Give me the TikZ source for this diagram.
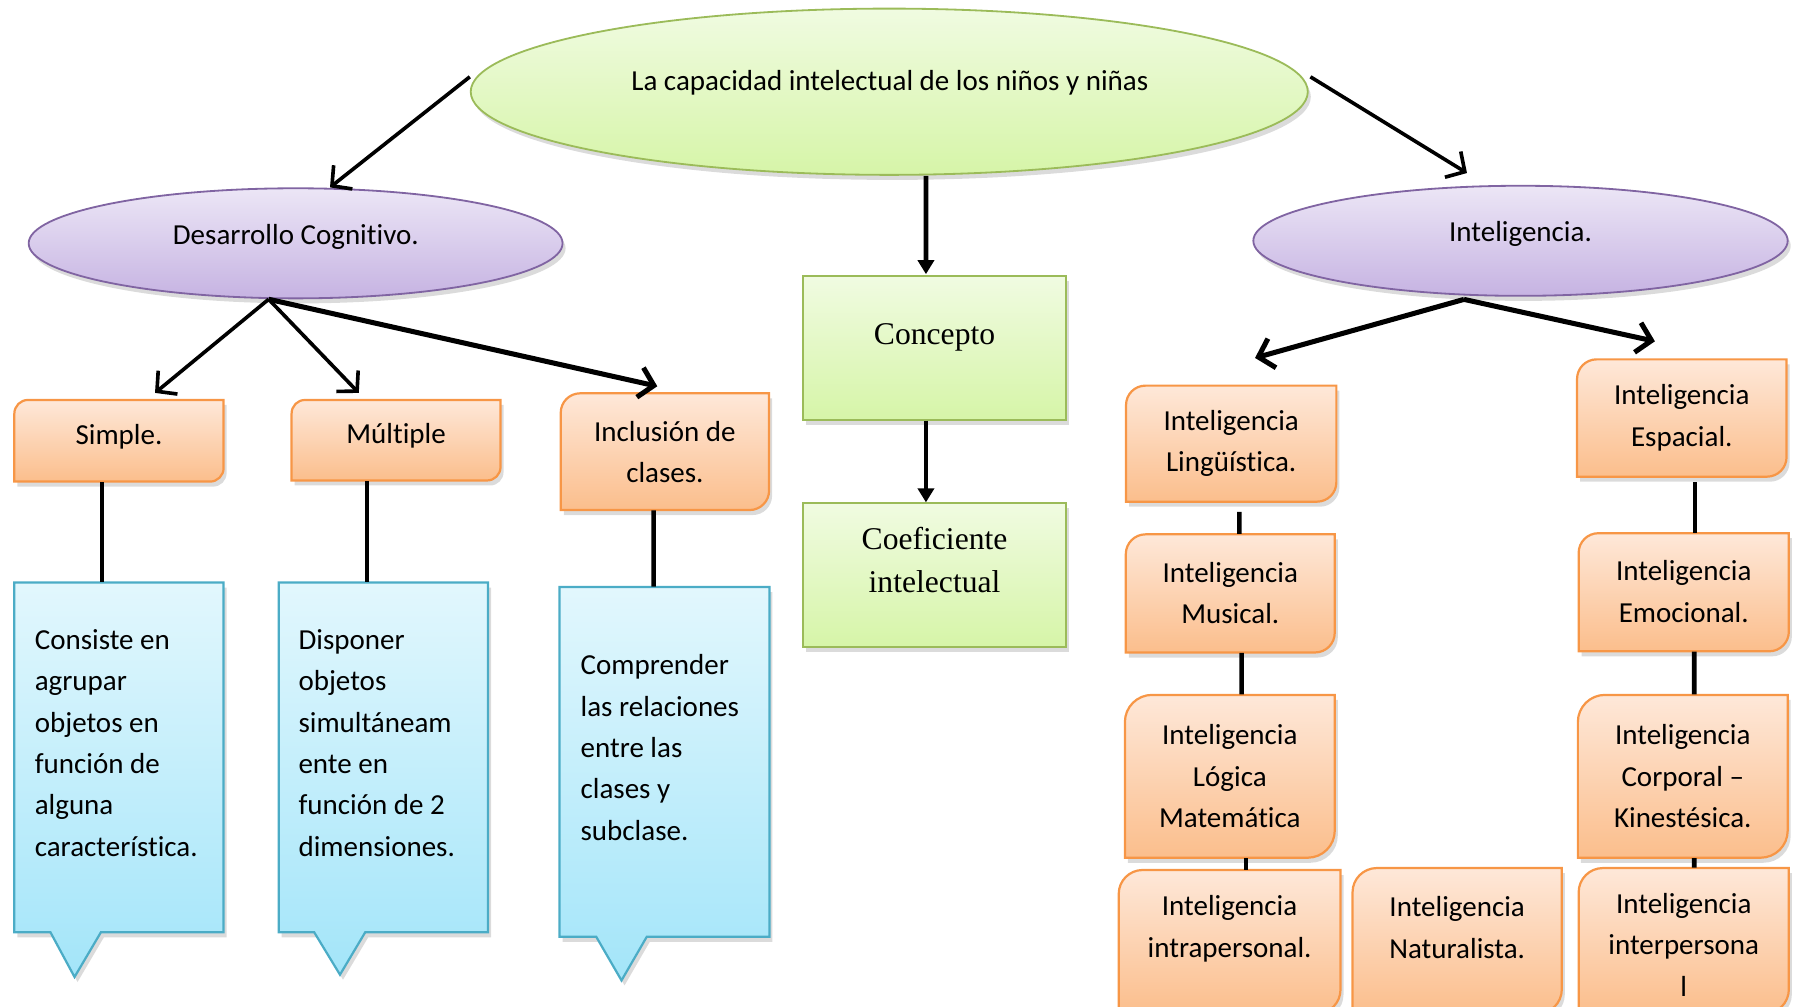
\documentclass[tikz,border=0pt]{standalone}
\usepackage{fontspec}
\setmainfont{Carlito}[Ligatures=NoCommon]
\newfontfamily\tnr{Liberation Serif}
\usetikzlibrary{arrows.meta,shapes.geometric,calc,shadows}

\definecolor{gtop}{HTML}{F0FBE1}
\definecolor{gbot}{HTML}{D6F5A8}
\definecolor{gline}{HTML}{9BBB59}
\definecolor{ptop}{HTML}{ECE6F6}
\definecolor{pbot}{HTML}{C6B3E2}
\definecolor{pline}{HTML}{8064A2}
\definecolor{otop}{HTML}{FEE8D9}
\definecolor{obot}{HTML}{FBBE8C}
\definecolor{oline}{HTML}{F79646}
\definecolor{btop}{HTML}{E2F7FD}
\definecolor{bbot}{HTML}{A3E5F9}
\definecolor{bline}{HTML}{4BACC6}

\tikzset{
  arr/.style={line width=1.8pt, -{Straight Barb[length=7pt,width=15pt,line width=1.8pt]}},
  arrthick/.style={line width=2.5pt, -{Straight Barb[length=7pt,width=15pt,line width=2.5pt]}},
  arrtri/.style={line width=2.3pt, -{Triangle[length=7pt,width=8pt]}},
  conn/.style={line width=2.3pt},
  shad/.style={drop shadow={shadow xshift=1.5pt, shadow yshift=-2.5pt, opacity=0.2, fill=black!70}},
  ell/.style={ellipse, inner sep=0pt, line width=0.9pt},
  txt/.style={font=\fontsize{14.4}{20.5}\selectfont, align=center, inner sep=0pt, yshift=-1.1pt},
  serif/.style={font=\tnr\fontsize{15.7}{21}\selectfont, align=center, inner sep=0pt, yshift=-1.7pt},
  boxnode/.style={inner sep=0pt, draw=none, rectangle},
}

% orange box: name, x1, y1, x2, y2, text y, text
\newcommand{\obox}[7]{%
  \pgfmathsetmacro{\rr}{min(#4-#2,#5-#3)/6}%
  \path[shad, top color=otop, bottom color=obot, draw=oline, line width=1.1pt]
    (#2,-#5) -- (#2,{-#3-\rr}) arc[start angle=180,end angle=90,radius=\rr]
    -- (#4,-#3) -- (#4,{-#5+\rr}) arc[start angle=0,end angle=-90,radius=\rr] -- cycle;
  \node[boxnode, minimum width={(#4-#2)*0.02cm}, minimum height={(#5-#3)*0.02cm}] (#1) at ({(#2+#4)/2},{-(#3+#5)/2}) {};
  \node[txt] (#1t) at ({(#2+#4)/2},-#6) {#7};
}

% blue callout: name, x1, y1, x2, y2, base x1, base x2, tip x, tip y
\newcommand{\bbox}[9]{%
  \path[shad, top color=btop, bottom color=bbot, draw=bline, line width=1.1pt]
    (#2,-#3) -- (#4,-#3) -- (#4,-#5) -- (#7,-#5) -- (#8,-#9) -- (#6,-#5) -- (#2,-#5) -- cycle;
  \node[boxnode, minimum width={(#4-#2)*0.02cm}, minimum height={(#5-#3)*0.02cm}] (#1) at ({(#2+#4)/2},{-(#3+#5)/2}) {};
}

\begin{document}
\begin{tikzpicture}[x=0.02cm,y=0.02cm]
\useasboundingbox (0,0) rectangle (1568,-878);
\clip (0,0) rectangle (1568,-878);

% ellipses
\node[ell, shad, draw=gline, top color=gtop, bottom color=gbot,
      minimum width={730*0.02cm}, minimum height={145*0.02cm}] (main) at (775.5,-80) {};
\node[txt] (maint) at (776,-70) {La capacidad intelectual de los niños y niñas};

\node[ell, shad, draw=pline, top color=ptop, bottom color=pbot,
      minimum width={465.6*0.02cm}, minimum height={96*0.02cm}] (dc) at (257.8,-212.2) {};
\node[txt] (dct) at (258,-205) {Desarrollo Cognitivo.};

\node[ell, shad, draw=pline, top color=ptop, bottom color=pbot,
      minimum width={466*0.02cm}, minimum height={96*0.02cm}] (intel) at (1326,-210) {};
\node[txt] (intelt) at (1326,-202) {Inteligencia.};

% green boxes
\node[boxnode, shad, draw=gline, line width=1pt, top color=gtop, bottom color=gbot,
      minimum width={230*0.02cm}, minimum height={125*0.02cm}] (conc) at (815,-303.5) {};
\node[serif] (conct) at (815,-291) {Concepto};
\node[boxnode, shad, draw=gline, line width=1pt, top color=gtop, bottom color=gbot,
      minimum width={230*0.02cm}, minimum height={125*0.02cm}] (coef) at (815,-501.5) {};
\node[serif] (coeft) at (815,-485.5) {Coeficiente\\intelectual};

% orange boxes
\obox{simple}{12.5}{348.8}{195}{420}{379}{Simple.}
\obox{mult}{254.3}{348.8}{436.5}{419}{378}{Múltiple}
\obox{incl}{489}{343}{670.7}{444.8}{392}{Inclusión de\\clases.}
\obox{ling}{982}{336.3}{1165.4}{437.5}{385}{Inteligencia\\Lingüística.}
\obox{mus}{981.8}{466}{1164}{569}{515}{Inteligencia\\Musical.}
\obox{log}{981}{606}{1164}{748}{675}{Inteligencia\\Lógica\\Matemática}
\obox{intra}{975.6}{758.7}{1169}{884}{808}{Inteligencia\\intrapersonal.}
\obox{nat}{1179.5}{757}{1362}{884}{807}{Inteligencia\\Naturalista.}
\obox{esp}{1375.3}{313.4}{1558}{415.7}{362.5}{Inteligencia\\Espacial.}
\obox{emo}{1376.7}{465}{1560}{568}{514}{Inteligencia\\Emocional.}
\obox{corp}{1376}{606}{1559}{748}{675}{Inteligencia\\Corporal –\\Kinestésica.}
\obox{inter}{1376.7}{757}{1560}{884}{822}{Inteligencia\\interpersona\\l}

% blue callouts
\bbox{b1}{12.5}{508}{195}{813}{44}{88}{65}{852}
\bbox{b2}{243}{508}{425.6}{813}{274}{318.5}{296.5}{850}
\bbox{b3}{488}{512}{671}{817}{520}{564}{542}{855}
\node[txt, align=left, anchor=west] (b1t) at (30,-646) {Consiste en\\agrupar\\objetos en\\función de\\alguna\\característica.};
\node[txt, align=left, anchor=west] (b2t) at (260,-646) {Disponer\\objetos\\simultáneam\\ente en\\función de 2\\dimensiones.};
\node[txt, align=left, anchor=west] (b3t) at (506,-650) {Comprender\\las relaciones\\entre las\\clases y\\subclase.};

% arrows
\draw[arr] ([shift={(0,13)}]main.west) -- ([shift={(30,0)}]dc.north);
\draw[arr] ([shift={(1.5,13)}]main.east) -- ([shift={(-46.7,10.3)}]intel.north);
\draw[arrtri] ([shift={(32,0)}]main.south) -- ([shift={(-7.5,1)}]conc.north);
\draw[arrtri] ([shift={(-7.5,0)}]conc.south) -- ([shift={(-7.5,0)}]coef.north);
\draw[arr] ([shift={(-23.5,0)}]dc.south) -- ([shift={(31.45,5.8)}]simple.north);
\draw[arr] ([shift={(-23.5,0)}]dc.south) -- ([shift={(-32.5,5.8)}]mult.north);
\draw[arrthick] ([shift={(-23.5,0)}]dc.south) -- ([shift={(-6.65,5.8)}]incl.north);
\draw[arrthick] ([shift={(-49.3,-2.3)}]intel.south) -- ([shift={(20.8,23.8)}]ling.north);
\draw[arrthick] ([shift={(-49.3,-2.3)}]intel.south) -- ([shift={(-23.45,15.4)}]esp.north);

% plain connectors
\draw[conn] ([shift={(-14.75,0)}]simple.south) -- ([shift={(-14.75,0)}]b1.north);
\draw[conn] ([shift={(-25.4,0)}]mult.south) -- ([shift={(-14.3,0)}]b2.north);
\draw[conn] ([shift={(-9.85,0)}]incl.south) -- ([shift={(-9.5,0)}]b3.north);
\draw[conn] ([shift={(7.1,-8.5)}]ling.south) -- ([shift={(7.9,0)}]mus.north);
\draw[conn] ([shift={(9.9,0)}]mus.south) -- ([shift={(10.3,0)}]log.north);
\draw[conn] ([shift={(14.1,0)}]log.south) -- ([shift={(14.3,0)}]intra.north);
\draw[conn] ([shift={(11.35,-4.3)}]esp.south) -- ([shift={(9.65,0)}]emo.north);
\draw[conn] ([shift={(9.15,0)}]emo.south) -- ([shift={(10,0)}]corp.north);
\draw[conn] ([shift={(10,0)}]corp.south) -- ([shift={(9.15,0)}]inter.north);
\end{tikzpicture}
\end{document}
